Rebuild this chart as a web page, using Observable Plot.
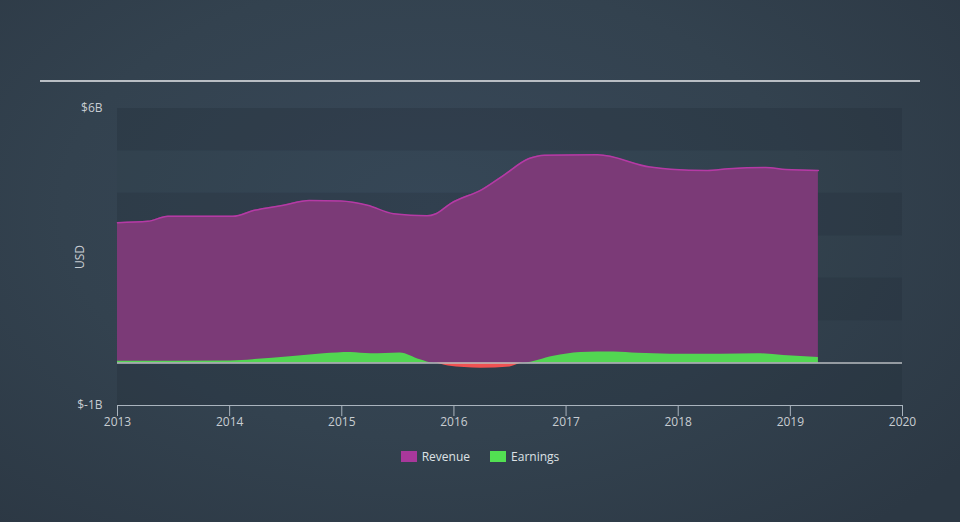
<!DOCTYPE html>
<html>
<head>
<meta charset="utf-8">
<script src="https://cdn.jsdelivr.net/npm/d3@7"></script>
<script src="https://cdn.jsdelivr.net/npm/@observablehq/plot@0.6"></script>
<style>
  html, body { margin: 0; padding: 0; }
  body {
    width: 960px; height: 522px; overflow: hidden; position: relative;
    background: radial-gradient(ellipse 70% 80% at 45% 40%, #384859 0%, #33424f 55%, #2c3844 100%);
    font-family: "Open Sans", sans-serif;
  }
  #topline { position: absolute; left: 40px; top: 80px; width: 880px; height: 2px; background: #b9bec4; }
  #chart { position: absolute; left: 0; top: 0; }
  #legend { position: absolute; left: 0; top: 448px; width: 960px; display: flex; justify-content: center; gap: 20px; color: #dde1e5; font-size: 12px; }
  .item { display: flex; align-items: center; gap: 5px; }
  .sw { width: 16px; height: 11px; display: inline-block; }
</style>
</head>
<body>
<div id="topline"></div>
<div id="chart"></div>
<div id="legend"></div>
<script>
const revYears = [2013.0, 2013.27, 2013.45, 2014.03, 2014.22, 2014.48, 2014.71, 2014.99, 2015.23, 2015.46, 2015.76, 2015.84, 2015.97, 2016.25, 2016.44, 2016.67, 2016.81, 2017.28, 2017.75, 2017.93, 2018.26, 2018.45, 2018.78, 2018.96, 2019.25];
const revenue  = [3.31, 3.34, 3.46, 3.46, 3.60, 3.72, 3.83, 3.82, 3.72, 3.52, 3.47, 3.52, 3.76, 4.09, 4.42, 4.82, 4.90, 4.91, 4.62, 4.57, 4.54, 4.58, 4.61, 4.56, 4.54];

const earnYears = [2013.0, 2014.01, 2014.21, 2014.54, 2014.84, 2015.08, 2015.26, 2015.52, 2015.70, 2015.82, 2015.95, 2016.24, 2016.5, 2016.62, 2016.89, 2017.13, 2017.43, 2017.64, 2017.93, 2018.38, 2018.71, 2018.94, 2019.25];
const earnings  = [0.04, 0.05, 0.08, 0.15, 0.22, 0.25, 0.22, 0.24, 0.08, 0, -0.07, -0.12, -0.09, 0, 0.16, 0.25, 0.26, 0.23, 0.21, 0.21, 0.22, 0.18, 0.13];

const xTicks = [2013, 2014, 2015, 2016, 2017, 2018, 2019, 2020];
const yTicks = [6, -1];
const darkBands = [[5, 6], [3, 4], [1, 2], [-1, 0]];
const lightBands = [[4, 5], [2, 3], [0, 1]];

const seriesNames = ["Revenue", "Earnings"];
const seriesColors = ["#a8389b", "#52e052"];

const rev = revYears.map((x, i) => ({x, y: revenue[i]}));
const earn = earnYears.map((x, i) => ({x, y: earnings[i]}));

const chart = Plot.plot({
  width: 960,
  height: 440,
  marginLeft: 117,
  marginRight: 58,
  marginTop: 108,
  marginBottom: 35,
  style: { background: "transparent", color: "#c8cdd2", fontFamily: "Open Sans, sans-serif", fontSize: "12px", overflow: "visible" },
  x: { domain: [2013, 2020] },
  y: { domain: [-1, 6] },
  marks: [
    Plot.rect(darkBands, { x1: 2013, x2: 2020, y1: d => d[0], y2: d => d[1], fill: "#1f2a36", fillOpacity: 0.28 }),
    Plot.rect(lightBands, { x1: 2013, x2: 2020, y1: d => d[0], y2: d => d[1], fill: "#1f2a36", fillOpacity: 0.04 }),
    Plot.areaY(rev, { x: "x", y: "y", fill: "#7b3a77", curve: "monotone-x" }),
    Plot.lineY(rev, { x: "x", y: "y", stroke: "#b53aa5", strokeWidth: 1.5, curve: "monotone-x" }),
    Plot.areaY(earn, { x: "x", y: d => Math.max(0, d.y), fill: "#52d652", curve: "monotone-x" }),
    Plot.areaY(earn, { x: "x", y: d => Math.min(0, d.y), fill: "#f05252", curve: "monotone-x" }),
    Plot.ruleY([0], { x1: 2013, x2: 2020, stroke: "#b8bcc0", strokeWidth: 1.5 }),
    Plot.ruleY([-1], { x1: 2013, x2: 2020, stroke: "#aab4be", strokeWidth: 1.2 }),
    Plot.axisY({ ticks: yTicks, tickFormat: d => `$${d}B`, tickSize: 0, tickPadding: 15, label: "USD", labelAnchor: "center", labelArrow: "none", labelOffset: 42, color: "#c8cdd2" }),
    Plot.axisX({ ticks: xTicks, tickFormat: d => String(d), tickSize: 11, tickPadding: 1, stroke: "#aab4be", color: "#c8cdd2", label: null })
  ]
});
document.getElementById("chart").appendChild(chart);

const legend = document.getElementById("legend");
seriesNames.forEach((n, i) => {
  const it = document.createElement("div");
  it.className = "item";
  it.innerHTML = `<span class="sw" style="background:${seriesColors[i]}"></span><span>${n}</span>`;
  legend.appendChild(it);
});
</script>
</body>
</html>
